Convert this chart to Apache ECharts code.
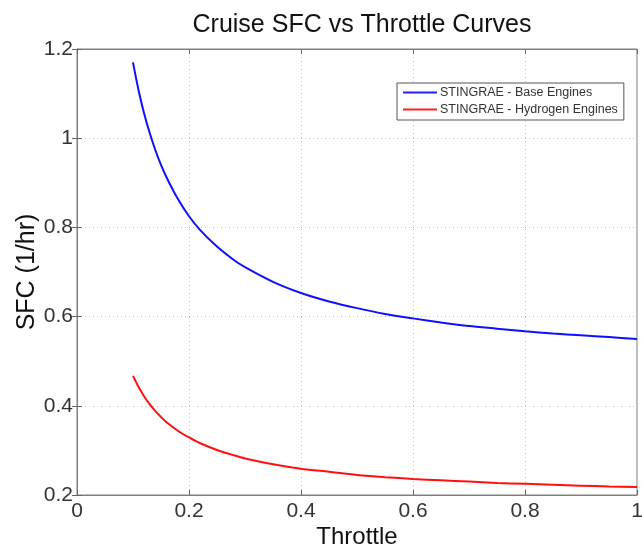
<!DOCTYPE html>
<html>
<head>
<meta charset="utf-8">
<script src="https://cdn.jsdelivr.net/npm/echarts@6/dist/echarts.min.js"></script>
<style>
  html, body { margin: 0; padding: 0; background: #fff; }
  #chart { width: 642px; height: 550px; }
</style>
</head>
<body>
<div id="chart"></div>
<script>
// Throttle settings (fraction of max) and cruise SFC readings (1/hr)
const throttle = [0.10, 0.11, 0.12, 0.13, 0.14, 0.15, 0.16, 0.18, 0.20, 0.22, 0.25, 0.28, 0.30, 0.35,
                  0.40, 0.45, 0.50, 0.55, 0.60, 0.65, 0.70, 0.75, 0.80, 0.85, 0.90, 0.95, 1.00];
const sfcBase = [1.170, 1.107, 1.055, 1.011, 0.973, 0.940, 0.912, 0.864, 0.825, 0.794, 0.757, 0.727, 0.711, 0.678,
                 0.653, 0.634, 0.619, 0.606, 0.596, 0.587, 0.579, 0.573, 0.567, 0.562, 0.558, 0.554, 0.550];
const sfcHydrogen = [0.467, 0.442, 0.421, 0.403, 0.388, 0.375, 0.363, 0.344, 0.329, 0.316, 0.301, 0.289, 0.282, 0.269,
                     0.259, 0.252, 0.245, 0.240, 0.236, 0.233, 0.230, 0.227, 0.225, 0.223, 0.221, 0.219, 0.218];
const seriesNames = ['STINGRAE - Base Engines', 'STINGRAE - Hydrogen Engines'];
const xRange = { min: 0, max: 1, interval: 0.2 };
const yRange = { min: 0.2, max: 1.2, interval: 0.2 };

const pairs = (xs, ys) => xs.map((x, i) => [x, ys[i]]);
const fmt = v => String(Math.round(v * 10) / 10);

const FONT = 'Liberation Sans, Arial, sans-serif';
const AXIS_GREY = '#7f7f7f';
const gridLine = { show: true, lineStyle: { color: '#c4c4c4', type: [1, 3], width: 1 } };
const innerTick = { show: true, inside: true, length: 5, lineStyle: { color: '#666' } };
const tickLabel = { fontFamily: FONT, fontSize: 21, color: '#333' };

const chart = echarts.init(document.getElementById('chart'), null, { renderer: 'canvas' });
chart.setOption({
  animation: false,
  backgroundColor: '#fff',
  title: {
    text: 'Cruise SFC vs Throttle Curves',
    left: 357, top: 8, textAlign: 'center',
    textStyle: { fontFamily: FONT, fontSize: 25, fontWeight: 'normal', color: '#111' }
  },
  grid: {
    left: 77, right: 5, top: 49, bottom: 55,
    outerBoundsMode: 'none', containLabel: false,
    show: true, borderColor: AXIS_GREY, borderWidth: 1
  },
  legend: {
    data: seriesNames,
    orient: 'vertical',
    left: 397, top: 83,
    padding: [3, 6, 4, 6],
    itemGap: 4,
    itemWidth: 34, itemHeight: 2,
    icon: 'rect',
    backgroundColor: '#fff',
    borderColor: '#555',
    borderWidth: 1,
    textStyle: { fontFamily: FONT, fontSize: 12.5, color: '#333', padding: [0, 0, 0, -2] }
  },
  xAxis: [
    {
      type: 'value', position: 'bottom', ...xRange,
      name: 'Throttle', nameLocation: 'middle', nameGap: 30, nameMoveOverlap: false,
      nameTextStyle: { fontFamily: FONT, fontSize: 24, color: '#111' },
      axisLine: { show: true, lineStyle: { color: AXIS_GREY } },
      axisTick: innerTick,
      axisLabel: { ...tickLabel, margin: 6, formatter: fmt },
      splitLine: gridLine
    },
    {
      type: 'value', position: 'top', ...xRange,
      axisLine: { show: true, lineStyle: { color: AXIS_GREY } },
      axisTick: innerTick,
      axisLabel: { show: false },
      splitLine: { show: false }
    }
  ],
  yAxis: [
    {
      type: 'value', position: 'left', ...yRange,
      name: 'SFC (1/hr)', nameLocation: 'middle', nameGap: 37, nameMoveOverlap: false,
      nameTextStyle: { fontFamily: FONT, fontSize: 25, color: '#111' },
      axisLine: { show: true, lineStyle: { color: AXIS_GREY } },
      axisTick: innerTick,
      axisLabel: { ...tickLabel, margin: 4, formatter: fmt },
      splitLine: gridLine
    },
    {
      type: 'value', position: 'right', ...yRange,
      axisLine: { show: true, lineStyle: { color: AXIS_GREY } },
      axisTick: innerTick,
      axisLabel: { show: false },
      splitLine: { show: false }
    }
  ],
  series: [
    {
      name: seriesNames[0], type: 'line', showSymbol: false, smooth: 0.3,
      color: '#2020ff', lineStyle: { width: 2, color: '#1010ff' },
      data: pairs(throttle, sfcBase)
    },
    {
      name: seriesNames[1], type: 'line', showSymbol: false, smooth: 0.3,
      color: '#ff2020', lineStyle: { width: 2, color: '#ff1010' },
      data: pairs(throttle, sfcHydrogen)
    }
  ]
});
</script>
</body>
</html>
